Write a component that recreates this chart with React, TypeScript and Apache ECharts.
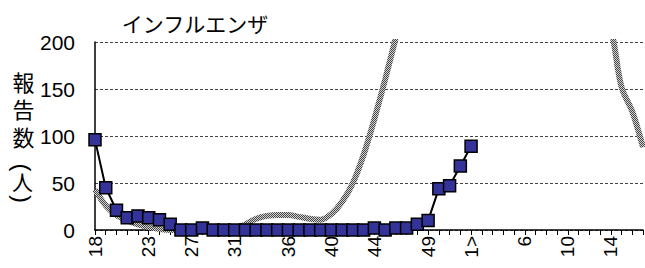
import React, { useEffect, useRef } from "react";
import * as echarts from "echarts";

const weeks: string[] = [
  "18","19","20","21","22","23","24","25","26","27","28","29","30","31","32","33","34","35",
  "36","37","38","39","40","41","42","43","44","45","46","47","48","49","50","51","52",
  "1>","2","3","4","5","6","7","8","9","10","11","12","13","14","15","16","17",
];
const labelIndexes: number[] = [0, 5, 9, 13, 18, 22, 26, 31, 35, 40, 44, 48];

const currentSeason: number[] = [
  96, 45, 21, 13, 15, 13, 11, 6, 0, 0, 2, 0, 0, 0, 0, 0, 0, 0, 0, 0, 0, 0, 0, 0, 0, 0,
  2, 0, 2, 2, 6, 10, 44, 47, 68, 89,
];
const pastAverage: number[] = [
  43, 26, 16, 10, 6, 3, 1, 0, 0, 0, 0, 0, 0, 1, 6, 12, 15, 16, 16, 14, 12, 11, 17, 30,
  50, 80, 118, 160, 205, 250, 300, 350, 390, 420, 440, 450, 450, 440, 420, 400, 380,
  360, 340, 320, 300, 280, 260, 240, 215, 152, 126, 88,
];
const yTicks = { min: 0, max: 200, interval: 50 };
const title = "インフルエンザ";
const yNameChars = ["報", "告", "数"];
const yNameUnit = "人";

function makePattern() {
  const c = document.createElement("canvas");
  c.width = 2;
  c.height = 2;
  const ctx = c.getContext("2d")!;
  ctx.fillStyle = "#d0d0d0";
  ctx.fillRect(0, 0, 2, 2);
  ctx.fillStyle = "#484848";
  ctx.fillRect(0, 0, 1, 1);
  ctx.fillRect(1, 1, 1, 1);
  return { image: c, repeat: "repeat" } as any;
}

export default function App() {
  const ref = useRef<HTMLDivElement>(null);
  useEffect(() => {
    document.body.style.margin = "0";
    const chart = echarts.init(ref.current!, undefined, { renderer: "svg" });
    const num = "Liberation Sans";
    const cjk = '"Noto Sans CJK JP"';
    const tight = '"Liberation Sans", "Noto Sans CJK JP"';
    const txt = (text: string, x: number, y: number, size: number, lh: number, fam: string) => ({
      type: "text",
      x,
      y,
      style: {
        text,
        fontSize: size,
        lineHeight: lh,
        fontFamily: fam,
        fill: "#000",
        align: "center",
        verticalAlign: "middle",
      },
    });
    const paren = (text: string, y: number) => ({
      type: "text",
      x: 22.5,
      y,
      rotation: -Math.PI / 2,
      style: {
        text,
        fontSize: 24,
        lineHeight: 24,
        fontFamily: num,
        fill: "#000",
        align: "center",
        verticalAlign: "middle",
      },
    });
    chart.setOption({
      animation: false,
      grid: { left: 95, right: 2, top: 42, bottom: 38, containLabel: false },
      graphic: [
        txt(title, 195, 23, 21, 21, cjk),
        txt(yNameChars.join("\n"), 23.5, 110.5, 22, 27.5, tight),
        paren("(", 167.5),
        txt(yNameUnit, 22.5, 182.5, 21, 21, tight),
        paren(")", 199),
      ],
      xAxis: {
        type: "category",
        data: weeks,
        boundaryGap: false,
        axisLine: { lineStyle: { color: "#000", width: 1.5 } },
        axisTick: { show: true, interval: 0, length: 5, lineStyle: { color: "#000" } },
        axisLabel: {
          interval: (index: number) => labelIndexes.includes(index),
          rotate: 90,
          fontSize: 19,
          fontFamily: num,
          color: "#000",
          margin: 6,
        },
        splitLine: { show: false },
      },
      yAxis: {
        type: "value",
        min: yTicks.min,
        max: yTicks.max,
        interval: yTicks.interval,
        axisLine: { show: true, lineStyle: { color: "#000", width: 1.5 } },
        axisTick: { show: false },
        axisLabel: { fontSize: 21, fontFamily: num, color: "#000", margin: 20 },
        splitLine: { lineStyle: { color: "#444", type: [3, 2], width: 1 } },
      },
      series: [
        {
          type: "line",
          data: pastAverage,
          smooth: 0.35,
          symbol: "none",
          clip: true,
          z: 1,
          lineStyle: { width: 6, color: makePattern() },
        },
        {
          type: "line",
          data: currentSeason,
          symbol: "rect",
          symbolSize: 12,
          showAllSymbol: true,
          z: 3,
          itemStyle: { color: "#333399", borderColor: "#000", borderWidth: 1.5 },
          lineStyle: { color: "#000", width: 2 },
        },
      ],
    });
    return () => chart.dispose();
  }, []);
  return <div ref={ref} style={{ width: 645, height: 268 }} />;
}
